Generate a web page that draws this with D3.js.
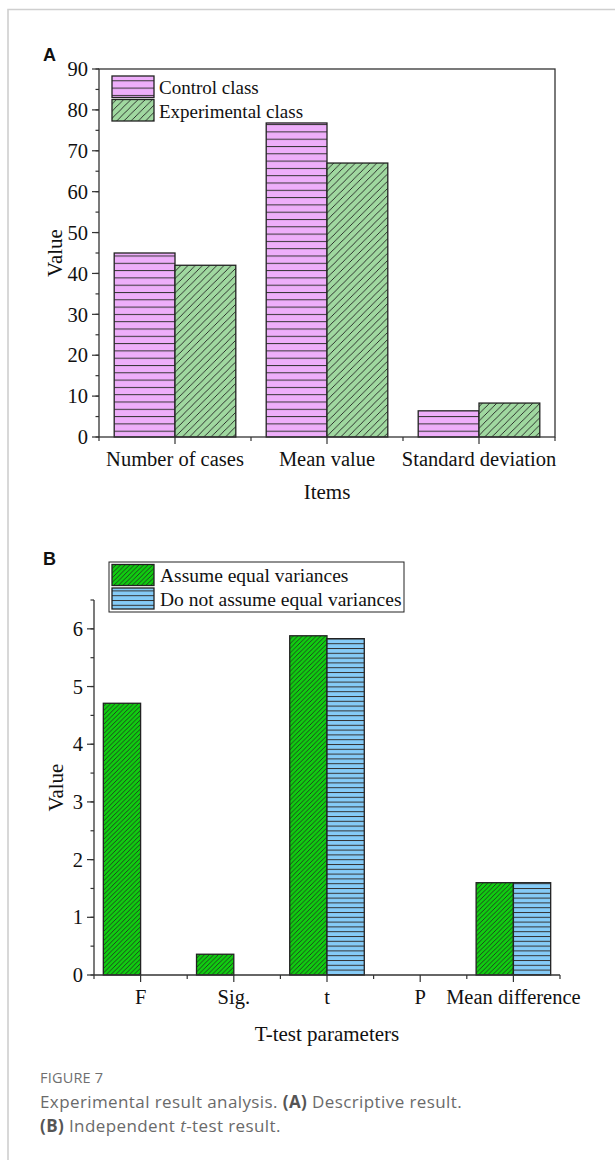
<!DOCTYPE html>
<html><head><meta charset="utf-8">
<script src="https://cdn.jsdelivr.net/npm/d3@7"></script>
<style>
html,body{margin:0;padding:0;background:#fff;}
svg{display:block;}
</style></head>
<body>
<script>
// ---- Data ----
const categoriesA = ["Number of cases", "Mean value", "Standard deviation"];
const controlA = [45, 76.8, 6.4];
const experimentalA = [42, 67.0, 8.3];
const seriesNamesA = ["Control class", "Experimental class"];
const yTicksA = [0, 10, 20, 30, 40, 50, 60, 70, 80, 90];

const categoriesB = ["F", "Sig.", "t", "P", "Mean difference"];
const equalB = [4.71, 0.36, 5.88, 0, 1.6];
const unequalB = [null, null, 5.83, 0, 1.6];
const seriesNamesB = ["Assume equal variances", "Do not assume equal variances"];
const yTicksB = [0, 1, 2, 3, 4, 5, 6];

const W = 615, H = 1160;
const serif = "'Liberation Serif','Times New Roman',serif";
const svg = d3.select("body").append("svg").attr("width", W).attr("height", H);

// frame
svg.append("path").attr("d", "M8,1200 L8,9.5 L700,9.5").attr("fill", "none")
  .attr("stroke", "#cfcfcf").attr("stroke-width", 1.6);

// ---- Patterns ----
const defs = svg.append("defs");
function hPattern(id, fill, gap) {
  const p = defs.append("pattern").attr("id", id).attr("patternUnits", "userSpaceOnUse")
    .attr("width", 10).attr("height", gap);
  p.append("rect").attr("width", 10).attr("height", gap).attr("fill", fill);
  p.append("line").attr("x1", 0).attr("x2", 10).attr("y1", 0.5).attr("y2", 0.5)
    .attr("stroke", "#333").attr("stroke-width", 1);
}
function dPattern(id, fill, gap, sw) {
  const p = defs.append("pattern").attr("id", id).attr("patternUnits", "userSpaceOnUse")
    .attr("width", gap).attr("height", gap);
  p.append("rect").attr("width", gap).attr("height", gap).attr("fill", fill);
  p.append("path").attr("d", `M${-gap / 2},${gap / 2} L${gap / 2},${-gap / 2} M0,${gap} L${gap},0 M${gap / 2},${gap * 1.5} L${gap * 1.5},${gap / 2}`)
    .attr("stroke", "#222").attr("stroke-width", sw);
}
hPattern("pinkH", "#eeaefa", 7.3);
dPattern("greenD", "#a0d8a0", 7.2, 0.9);
dPattern("bgreenD", "#10cc10", 4.6, 0.8);
hPattern("blueH", "#85cbf7", 4.8);

// ---- helpers ----
function yAxisTicks(g, y, x0, major, minorStep) {
  const [d0, d1] = y.domain();
  const minors = d3.range(d0, d1 + 1e-9, minorStep);
  g.selectAll(".mn").data(minors).enter().append("line")
    .attr("x1", x0 - 3.5).attr("x2", x0).attr("y1", d => y(d)).attr("y2", d => y(d))
    .attr("stroke", "#333").attr("stroke-width", 1.2);
  g.selectAll(".mj").data(major).enter().append("line")
    .attr("x1", x0 - 7).attr("x2", x0).attr("y1", d => y(d)).attr("y2", d => y(d))
    .attr("stroke", "#333").attr("stroke-width", 1.2);
  g.selectAll(".tl").data(major).enter().append("text")
    .attr("x", x0 - 11).attr("y", d => y(d)).attr("dy", "0.35em")
    .attr("text-anchor", "end").attr("font-family", serif).attr("font-size", 20.5)
    .attr("fill", "#111").text(d => d);
}
function xAxisTicks(g, x, yb, cats) {
  const bw = x.step();
  const r = x.range();
  const bounds = [r[0]].concat(cats.map(c => x(c) + bw));
  g.selectAll(".xmn").data(bounds).enter().append("line")
    .attr("x1", d => d).attr("x2", d => d).attr("y1", yb).attr("y2", yb + 4)
    .attr("stroke", "#333").attr("stroke-width", 1.2);
  g.selectAll(".xmj").data(cats).enter().append("line")
    .attr("x1", d => x(d) + bw / 2).attr("x2", d => x(d) + bw / 2).attr("y1", yb).attr("y2", yb + 7)
    .attr("stroke", "#333").attr("stroke-width", 1.2);
}

// ================= Panel A =================
{
  const left = 99, right = 555, top = 69, bottom = 437;
  const x = d3.scaleBand().domain(categoriesA).range([left, right]).paddingInner(0).paddingOuter(0);
  const y = d3.scaleLinear().domain([0, 90]).range([bottom, top]);
  const g = svg.append("g");
  const bw = x.step() * 0.4, off = x.step() * 0.1;

  g.selectAll(".c").data(controlA).enter().append("rect")
    .attr("x", (d, i) => x(categoriesA[i]) + off).attr("width", bw)
    .attr("y", d => y(d)).attr("height", d => bottom - y(d))
    .attr("fill", "url(#pinkH)").attr("stroke", "#222").attr("stroke-width", 1.3);
  g.selectAll(".e").data(experimentalA).enter().append("rect")
    .attr("x", (d, i) => x(categoriesA[i]) + off + bw).attr("width", bw)
    .attr("y", d => y(d)).attr("height", d => bottom - y(d))
    .attr("fill", "url(#greenD)").attr("stroke", "#222").attr("stroke-width", 1.3);

  // box
  g.append("rect").attr("x", left).attr("y", top).attr("width", right - left).attr("height", bottom - top)
    .attr("fill", "none").attr("stroke", "#333").attr("stroke-width", 1.3);
  yAxisTicks(g, y, left, yTicksA, 5);
  xAxisTicks(g, x, bottom, categoriesA);
  g.selectAll(".xl").data(categoriesA).enter().append("text")
    .attr("x", d => x(d) + x.step() / 2).attr("y", 466).attr("text-anchor", "middle")
    .attr("font-family", serif).attr("font-size", 20.5).attr("fill", "#111").text(d => d);
  g.append("text").attr("x", (left + right) / 2).attr("y", 499).attr("text-anchor", "middle")
    .attr("font-family", serif).attr("font-size", 21).attr("fill", "#111").text("Items");
  g.append("text").attr("transform", `translate(62,${(top + bottom) / 2}) rotate(-90)`)
    .attr("text-anchor", "middle").attr("font-family", serif).attr("font-size", 21)
    .attr("fill", "#111").text("Value");
  g.append("text").attr("x", 43).attr("y", 61).attr("font-family", "'Liberation Sans',Arial,sans-serif")
    .attr("font-weight", "bold").attr("font-size", 18).attr("fill", "#111").text("A");

  // legend
  const fills = ["url(#pinkH)", "url(#greenD)"];
  seriesNamesA.forEach((s, i) => {
    const yy = 76 + i * 23.5;
    g.append("rect").attr("x", 112).attr("y", yy).attr("width", 42).attr("height", 21.5)
      .attr("fill", fills[i]).attr("stroke", "#222").attr("stroke-width", 1.3);
    g.append("text").attr("x", 159).attr("y", yy + 18).attr("font-family", serif)
      .attr("font-size", 19).attr("fill", "#111").text(s);
  });
}

// ================= Panel B =================
{
  const left = 94, right = 560, top = 600, bottom = 975;
  const x = d3.scaleBand().domain(categoriesB).range([left, right]).paddingInner(0).paddingOuter(0);
  const y = d3.scaleLinear().domain([0, 6.5]).range([bottom, top]);
  const g = svg.append("g");
  const bw = x.step() * 0.4, off = x.step() * 0.1;

  const eq = equalB.map((v, i) => ({ v, c: categoriesB[i] })).filter(d => d.v > 0);
  const un = unequalB.map((v, i) => ({ v, c: categoriesB[i] })).filter(d => d.v != null && d.v > 0);
  g.selectAll(".q").data(eq).enter().append("rect")
    .attr("x", d => x(d.c) + off).attr("width", bw)
    .attr("y", d => y(d.v)).attr("height", d => bottom - y(d.v))
    .attr("fill", "url(#bgreenD)").attr("stroke", "#222").attr("stroke-width", 1.3);
  g.selectAll(".u").data(un).enter().append("rect")
    .attr("x", d => x(d.c) + off + bw).attr("width", bw)
    .attr("y", d => y(d.v)).attr("height", d => bottom - y(d.v))
    .attr("fill", "url(#blueH)").attr("stroke", "#222").attr("stroke-width", 1.3);

  g.append("line").attr("x1", left).attr("x2", left).attr("y1", top).attr("y2", bottom)
    .attr("stroke", "#333").attr("stroke-width", 1.3);
  g.append("line").attr("x1", left).attr("x2", right).attr("y1", bottom).attr("y2", bottom)
    .attr("stroke", "#333").attr("stroke-width", 1.3);
  yAxisTicks(g, y, left, yTicksB, 0.5);
  xAxisTicks(g, x, bottom, categoriesB);
  g.selectAll(".xl").data(categoriesB).enter().append("text")
    .attr("x", d => x(d) + x.step() / 2).attr("y", 1004).attr("text-anchor", "middle")
    .attr("font-family", serif).attr("font-size", 20.5).attr("fill", "#111").text(d => d);
  g.append("text").attr("x", (left + right) / 2).attr("y", 1041).attr("text-anchor", "middle")
    .attr("font-family", serif).attr("font-size", 21).attr("fill", "#111").text("T-test parameters");
  g.append("text").attr("transform", `translate(63,${(top + bottom) / 2}) rotate(-90)`)
    .attr("text-anchor", "middle").attr("font-family", serif).attr("font-size", 21)
    .attr("fill", "#111").text("Value");
  g.append("text").attr("x", 43).attr("y", 565).attr("font-family", "'Liberation Sans',Arial,sans-serif")
    .attr("font-weight", "bold").attr("font-size", 18).attr("fill", "#111").text("B");

  // legend
  g.append("rect").attr("x", 109).attr("y", 562).attr("width", 295).attr("height", 50)
    .attr("fill", "#fff").attr("stroke", "#222").attr("stroke-width", 1);
  const fills = ["url(#bgreenD)", "url(#blueH)"];
  seriesNamesB.forEach((s, i) => {
    const yy = 564.5 + i * 23.5;
    g.append("rect").attr("x", 112).attr("y", yy).attr("width", 42).attr("height", 21)
      .attr("fill", fills[i]).attr("stroke", "#222").attr("stroke-width", 1.3);
    g.append("text").attr("x", 160).attr("y", yy + 17.5).attr("font-family", serif)
      .attr("font-size", 19.5).attr("fill", "#111").text(s);
  });
}

// ================= Caption =================
{
  const f = "'Open Sans','Noto Sans',sans-serif";
  const g = svg.append("g").attr("font-family", f);
  g.append("text").attr("x", 40).attr("y", 1083).attr("font-size", 14.5).attr("letter-spacing", 0.2)
    .attr("fill", "#6f6f6f").text("FIGURE 7");
  const t1 = g.append("text").attr("x", 40).attr("y", 1108).attr("font-size", 17)
    .attr("letter-spacing", 0.4).attr("fill", "#6a6a6a");
  t1.append("tspan").text("Experimental result analysis. ");
  t1.append("tspan").attr("font-weight", "bold").attr("fill", "#555").text("(A)");
  t1.append("tspan").text(" Descriptive result.");
  const t2 = g.append("text").attr("x", 40).attr("y", 1132).attr("font-size", 17)
    .attr("letter-spacing", 0.4).attr("fill", "#6a6a6a");
  t2.append("tspan").attr("font-weight", "bold").attr("fill", "#555").text("(B)");
  t2.append("tspan").text(" Independent ");
  t2.append("tspan").attr("font-style", "italic").text("t");
  t2.append("tspan").text("-test result.");
}
</script>
</body></html>
